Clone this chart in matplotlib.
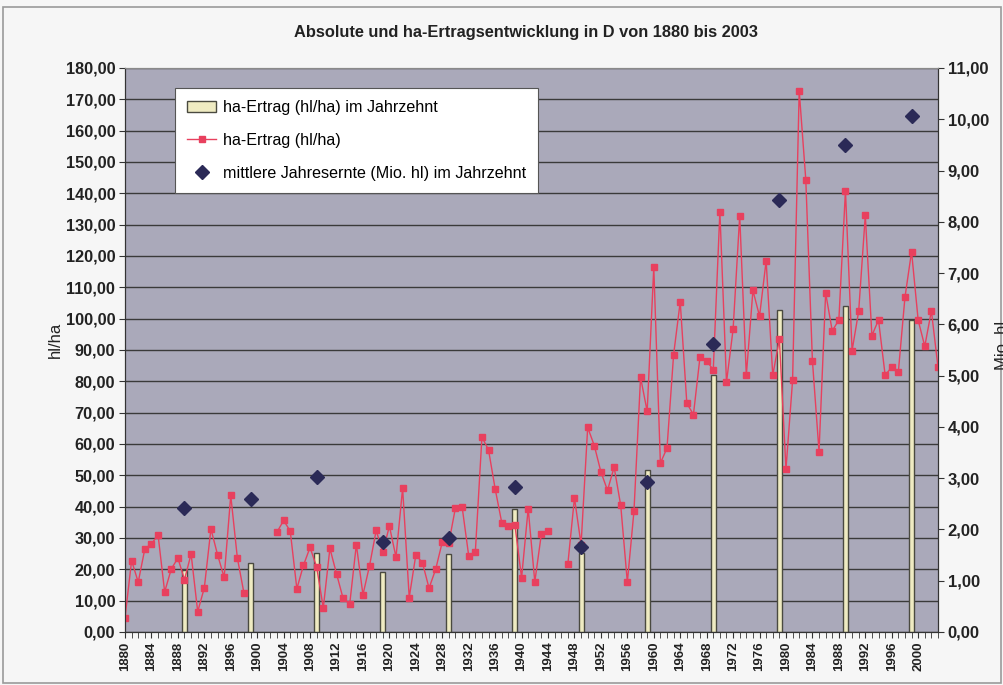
import numpy as np
import matplotlib
matplotlib.use("Agg")
import matplotlib.pyplot as plt
from matplotlib.patches import Rectangle
from matplotlib.ticker import FuncFormatter, MultipleLocator

plt.rcParams['font.family'] = ['Liberation Sans', 'DejaVu Sans']

# ---------------- data ----------------
years = list(range(1880, 2004))
nan = float('nan')
yield_hl_ha = [
    4.5, 22.8, 15.9, 26.5, 28.1, 31.0, 12.8, 20.1, 23.6, 16.7,      # 1880-1889
    24.9, 6.5, 14.1, 32.9, 24.7, 17.4, 43.6, 23.6, 12.4, nan,       # 1890-1899
    nan, nan, nan, 31.9, 35.6, 32.2, 13.8, 21.3, 27.0, 20.7,        # 1900-1909
    7.7, 26.7, 18.6, 10.7, 9.0, 27.9, 11.9, 21.2, 32.4, 25.5,       # 1910-1919
    33.8, 23.9, 45.9, 11.0, 24.6, 22.1, 14.0, 20.0, 28.7, 28.5,     # 1920-1929
    39.7, 40.0, 24.3, 25.5, 62.2, 58.1, 45.7, 34.9, 33.8, 34.0,     # 1930-1939
    17.3, 39.4, 16.0, 31.4, 32.1, nan, nan, 21.7, 42.8, 27.9,       # 1940-1949
    65.3, 59.5, 51.1, 45.2, 52.6, 40.4, 15.9, 38.5, 81.3, 70.4,     # 1950-1959
    116.4, 53.9, 58.7, 88.5, 105.4, 73.0, 69.4, 87.9, 86.6, 83.6,   # 1960-1969
    134.2, 79.7, 96.6, 132.8, 81.9, 109.0, 100.8, 118.5, 81.9, 93.5,  # 1970-1979
    52.0, 80.3, 172.8, 144.3, 86.6, 57.6, 108.2, 96.1, 99.6, 140.9,   # 1980-1989
    89.8, 102.4, 133.0, 94.6, 99.6, 82.0, 84.5, 83.0, 106.8, 121.4,   # 1990-1999
    99.5, 91.2, 102.5, 84.5,                                          # 2000-2003
]
assert len(yield_hl_ha) == len(years)

decade_years = [1889, 1899, 1909, 1919, 1929, 1939, 1949, 1959, 1969, 1979, 1989, 1999]
decade_yield = [19.7, 22.0, 25.3, 19.1, 24.8, 39.1, 25.2, 51.6, 82.0, 102.7, 104.0, 99.5]
decade_harvest_mio_hl = [2.41, 2.60, 3.02, 1.76, 1.83, 2.82, 1.66, 2.92, 5.62, 8.43, 9.49, 10.06]

left_ticks = list(range(0, 181, 10))
right_ticks = list(range(0, 12))
x_tick_years = list(range(1880, 2001, 4))

title = "Absolute und ha-Ertragsentwicklung in D von 1880 bis 2003"
label_bars = "ha-Ertrag (hl/ha) im Jahrzehnt"
label_line = "ha-Ertrag (hl/ha)"
label_dia = "mittlere Jahresernte (Mio. hl) im Jahrzehnt"

# ---------------- figure ----------------
W, H = 1004, 685
fig = plt.figure(figsize=(W / 100, H / 100), dpi=100)
fig.patch.set_facecolor('#f6f6f6')
fig.add_artist(Rectangle((3 / W, 1 - 683 / H), 998 / W, 676 / H, transform=fig.transFigure,
                         fill=False, edgecolor='#9a9a9a', lw=1.2))

L, R, T, B = 125, 938, 68, 632
ax = fig.add_axes([L / W, 1 - B / H, (R - L) / W, (B - T) / H])
ax.set_facecolor('#aaa9ba')
ax2 = ax.twinx()

comma = FuncFormatter(lambda v, p: f"{v:.2f}".replace('.', ','))

# bars
bars = ax.bar(decade_years, decade_yield, width=0.75, color='#efebc2',
              edgecolor='#4a4a40', linewidth=1.0, zorder=3, label=label_bars)
# line
line, = ax.plot(years, yield_hl_ha, color='#e8405e', lw=1.0, marker='s', markersize=5,
                markerfacecolor='#e8405e', markeredgecolor='#e8405e', zorder=4, label=label_line)
# diamonds on right axis
dia, = ax2.plot(decade_years, decade_harvest_mio_hl, linestyle='none', marker='D', markersize=7,
                color='#2b2a57', zorder=5, label=label_dia)

ax.set_xlim(1880, 2003)
ax.set_ylim(0, 180)
ax2.set_ylim(0, 11)
ax.set_yticks(left_ticks)
ax2.set_yticks(right_ticks)
ax.yaxis.set_major_formatter(comma)
ax2.yaxis.set_major_formatter(comma)
ax.set_xticks(x_tick_years)
ax.xaxis.set_minor_locator(MultipleLocator(1))
ax.set_xticklabels([str(y) for y in x_tick_years], rotation=90, fontsize=9.5, fontweight='bold',
                   color='#222222')
ax.tick_params(axis='x', which='both', direction='out', length=4, color='#333333', pad=3)
ax.tick_params(axis='y', direction='out', length=4, labelsize=11.7, color='#333333',
               labelcolor='#222222', pad=3)
ax2.tick_params(axis='y', direction='out', length=4, labelsize=12, color='#333333',
                labelcolor='#222222', pad=3)
for lab in ax.get_yticklabels() + ax2.get_yticklabels():
    lab.set_fontweight('bold')

ax.grid(axis='y', color='#3a3a3a', lw=1.0, zorder=1)
ax.set_axisbelow(True)
for sp in ['left', 'right', 'bottom']:
    ax.spines[sp].set_color('#333333')
    ax2.spines[sp].set_color('#333333')
ax.spines['top'].set_color('#8a8a8a')
ax2.spines['top'].set_color('#8a8a8a')

fig.text(55 / W, 1 - 340 / H, "hl/ha", rotation=90, ha='center', va='center',
         fontsize=12, color='#222222')

fig.text(526 / W, 1 - 33 / H, title, ha='center', va='center', fontsize=11.8,
         fontweight='bold', color='#222222')
fig.text(1003 / W, 1 - 345 / H, "Mio. hl", rotation=90, ha='center', va='center',
         fontsize=12, color='#222222')

leg = ax2.legend([bars, line, dia], [label_bars, label_line, label_dia],
                 loc='upper left', bbox_to_anchor=((175 - L) / (R - L), (B - 88) / (B - T)),
                 borderaxespad=0, fancybox=False, framealpha=1, edgecolor='#555555',
                 fontsize=11.6, handlelength=1.8, labelspacing=1.1, borderpad=0.75,
                 handletextpad=0.4)
leg.get_frame().set_linewidth(0.8)
leg.set_zorder(10)

fig.savefig("out.png", dpi=100, facecolor=fig.get_facecolor())
